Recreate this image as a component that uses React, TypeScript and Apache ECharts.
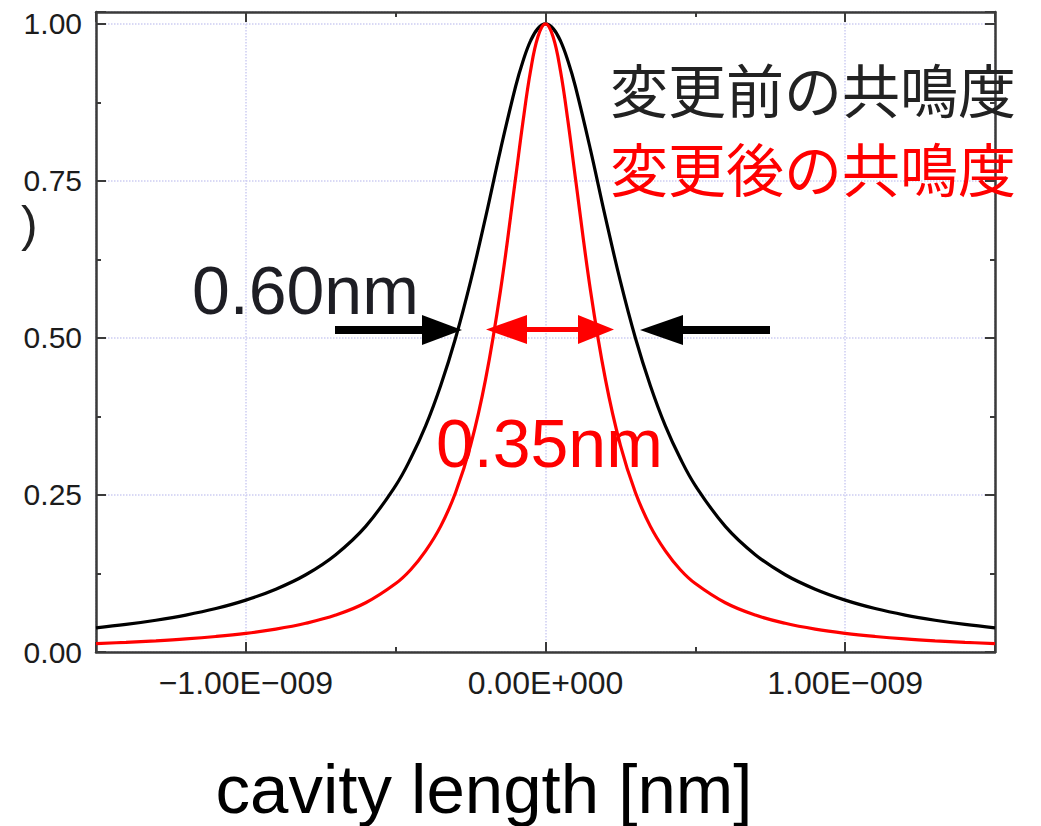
import React, { useEffect, useRef } from 'react';
import * as echarts from 'echarts';

// cavity length offset in nm (axis labels show metres)
const xNm = [
  -1.5, -1.4, -1.3, -1.2, -1.1, -1.0, -0.9, -0.8, -0.7, -0.6, -0.5, -0.45, -0.4, -0.35, -0.3,
  -0.25, -0.2, -0.15, -0.1, -0.075, -0.05, -0.025, 0, 0.025, 0.05, 0.075, 0.1, 0.15, 0.2, 0.25,
  0.3, 0.35, 0.4, 0.45, 0.5, 0.6, 0.7, 0.8, 0.9, 1.0, 1.1, 1.2, 1.3, 1.4, 1.5,
];

// 変更前の共鳴度 (black)
const resonanceBefore = [
  0.0385, 0.0439, 0.0506, 0.0588, 0.0692, 0.0826, 0.1, 0.123, 0.155, 0.2, 0.265, 0.308, 0.36, 0.424, 0.5,
  0.59, 0.692, 0.8, 0.9, 0.941, 0.973, 0.993, 1.0, 0.993, 0.973, 0.941, 0.9, 0.8, 0.692, 0.59,
  0.5, 0.424, 0.36, 0.308, 0.265, 0.2, 0.155, 0.123, 0.1, 0.0826, 0.0692, 0.0588, 0.0506, 0.0439, 0.0385,
];

// 変更後の共鳴度 (red)
const resonanceAfter = [
  0.0134, 0.0154, 0.0178, 0.0208, 0.0247, 0.0297, 0.0364, 0.0457, 0.0588, 0.0784, 0.109, 0.131, 0.161, 0.2, 0.254,
  0.329, 0.434, 0.576, 0.754, 0.845, 0.925, 0.98, 1.0, 0.98, 0.925, 0.845, 0.754, 0.576, 0.434, 0.329,
  0.254, 0.2, 0.161, 0.131, 0.109, 0.0784, 0.0588, 0.0457, 0.0364, 0.0297, 0.0247, 0.0208, 0.0178, 0.0154, 0.0134,
];

const xTickValues = [-1, 0, 1];
const xTickLabels = ['−1.00E−009', '0.00E+000', '1.00E−009'];
const yTickValues = [0, 0.25, 0.5, 0.75, 1];
const yTickLabels = ['0.00', '0.25', '0.50', '0.75', '1.00'];

const X_MIN = -1.5;
const X_MAX = 1.5;
const Y_MIN = 0;
const Y_MAX = 1.019;

const SANS = '"Liberation Sans", Arial, sans-serif';
const CJK = '"Noto Sans CJK JP", sans-serif';

const pick = (values: number[], labels: string[]) => (v: number) => {
  const i = values.findIndex((t) => Math.abs(t - v) < 1e-9);
  return i >= 0 ? labels[i] : '';
};

export default function App() {
  const ref = useRef<HTMLDivElement>(null);

  useEffect(() => {
    if (!ref.current) return;
    const chart = echarts.init(ref.current, undefined, { renderer: 'svg' });

    const frame = { color: '#3a3a3a', width: 2.5 };
    const tickStyle = { color: '#3a3a3a', width: 2 };
    const grid = { left: 96, right: 46, top: 12, bottom: 174 };
    const dotted = { show: true, lineStyle: { color: '#cdcdf2', type: 'dotted' as const, width: 1.5 } };

    const majorX = (position: 'top' | 'bottom', main: boolean) => ({
      gridIndex: 0,
      type: 'value' as const,
      position,
      min: X_MIN,
      max: X_MAX,
      splitNumber: 3,
      axisLine: { show: true, onZero: false, lineStyle: frame },
      axisTick: { show: true, inside: true, length: 10, lineStyle: tickStyle },
      axisLabel: main
        ? {
            show: true,
            formatter: pick(xTickValues, xTickLabels),
            fontSize: 32,
            fontFamily: SANS,
            color: '#1c1c1c',
            margin: 15,
          }
        : { show: false },
      splitLine: main ? dotted : { show: false },
    });
    const minorX = (position: 'top' | 'bottom') => ({
      gridIndex: 1,
      type: 'value' as const,
      position,
      min: X_MIN,
      max: X_MAX,
      interval: 0.5,
      axisLine: { show: false, onZero: false },
      axisTick: { show: true, inside: true, length: 5, lineStyle: tickStyle },
      axisLabel: { show: false },
      splitLine: { show: false },
    });
    const majorY = (position: 'left' | 'right', main: boolean) => ({
      gridIndex: 0,
      type: 'value' as const,
      position,
      min: Y_MIN,
      max: Y_MAX,
      interval: 0.25,
      axisLine: { show: true, onZero: false, lineStyle: frame },
      axisTick: { show: true, inside: true, length: 10, lineStyle: tickStyle },
      axisLabel: main
        ? {
            show: true,
            formatter: pick(yTickValues, yTickLabels),
            fontSize: 30,
            fontFamily: SANS,
            color: '#1c1c1c',
            margin: 14,
          }
        : { show: false },
      splitLine: main ? dotted : { show: false },
    });
    const minorY = (position: 'left' | 'right') => ({
      gridIndex: 1,
      type: 'value' as const,
      position,
      min: Y_MIN,
      max: Y_MAX,
      interval: 0.125,
      axisLine: { show: false, onZero: false },
      axisTick: { show: true, inside: true, length: 5, lineStyle: tickStyle },
      axisLabel: { show: false },
      splitLine: { show: false },
    });

    const textEl = (
      text: string,
      x: number,
      y: number,
      size: number,
      family: string,
      fill: string,
      align: 'left' | 'center' = 'left'
    ) => ({
      type: 'text' as const,
      z: 10,
      style: {
        text,
        x,
        y,
        fill,
        font: `${size}px ${family}`,
        textAlign: align,
        textVerticalAlign: 'middle',
        verticalAlign: 'middle',
      },
    });

    chart.setOption({
      animation: false,
      backgroundColor: '#ffffff',
      grid: [
        { ...grid, containLabel: false },
        { ...grid, containLabel: false },
      ],
      xAxis: [majorX('bottom', true), majorX('top', false), minorX('bottom'), minorX('top')],
      yAxis: [majorY('left', true), majorY('right', false), minorY('left'), minorY('right')],
      series: [
        {
          name: '変更前の共鳴度',
          type: 'line',
          xAxisIndex: 0,
          yAxisIndex: 0,
          data: xNm.map((x, i) => [x, resonanceBefore[i]]),
          showSymbol: false,
          smooth: 0.4,
          lineStyle: { color: '#000000', width: 3.2 },
          z: 3,
        },
        {
          name: '変更後の共鳴度',
          type: 'line',
          xAxisIndex: 0,
          yAxisIndex: 0,
          data: xNm.map((x, i) => [x, resonanceAfter[i]]),
          showSymbol: false,
          smooth: 0.4,
          lineStyle: { color: '#ff0000', width: 3.2 },
          z: 4,
        },
      ],
      graphic: [
        textEl('変更前の共鳴度', 610, 88, 58, CJK, '#222222'),
        textEl('変更後の共鳴度', 610, 167, 58, CJK, '#ff0000'),
        textEl('0.60nm', 192, 290, 68, SANS, '#1e1e24'),
        textEl('0.35nm', 436, 443, 68, SANS, '#ff0000'),
        textEl(')', 21, 224, 50, SANS, '#222222'),
        textEl('cavity length [nm]', 484, 789, 69, SANS, '#000000', 'center'),
        // black arrow from the left
        { type: 'rect', z: 10, shape: { x: 335, y: 326, width: 90, height: 8 }, style: { fill: '#000' } },
        { type: 'polygon', z: 10, shape: { points: [[422, 315], [462, 330], [422, 345]] }, style: { fill: '#000' } },
        // black arrow from the right
        { type: 'rect', z: 10, shape: { x: 681, y: 326, width: 89, height: 8 }, style: { fill: '#000' } },
        { type: 'polygon', z: 10, shape: { points: [[683, 315], [640, 330], [683, 345]] }, style: { fill: '#000' } },
        // red double arrow
        { type: 'rect', z: 10, shape: { x: 520, y: 327, width: 64, height: 5 }, style: { fill: '#ff0000' } },
        { type: 'polygon', z: 10, shape: { points: [[527, 315], [486, 329.5], [527, 344]] }, style: { fill: '#ff0000' } },
        { type: 'polygon', z: 10, shape: { points: [[578, 315], [614, 329.5], [578, 344]] }, style: { fill: '#ff0000' } },
      ],
    });

    return () => chart.dispose();
  }, []);

  return (
    <div
      ref={ref}
      style={{ position: 'absolute', left: 0, top: 0, width: 1041, height: 826, background: '#fff' }}
    />
  );
}
